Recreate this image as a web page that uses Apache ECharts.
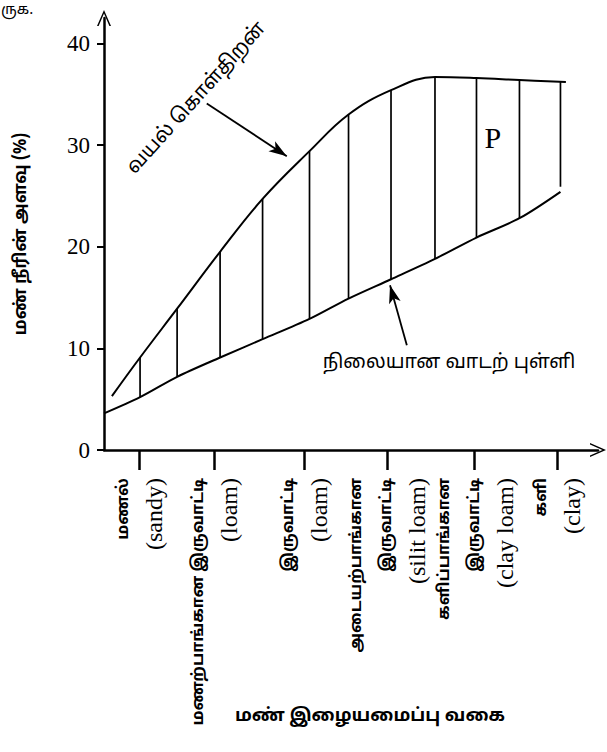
<!DOCTYPE html>
<html><head><meta charset="utf-8">
<script src="https://cdn.jsdelivr.net/npm/echarts@6/dist/echarts.min.js"></script>
<style>html,body{margin:0;padding:0;background:#fff}#c{width:607px;height:752px}</style>
</head><body><div id="c"></div>
<script>
// ---- data ----
const yTicks = [0, 10, 20, 30, 40];
const xTickPos = [7.1, 22.3, 40.5, 57.3, 75.0, 91.8];
const xTickLabels = [
  ['மணல்', '(sandy)'],
  ['மணற்பாங்கான இருவாட்டி', '(loam)'],
  ['இருவாட்டி', '(loam)'],
  ['அடையற்பாங்கான', 'இருவாட்டி', '(silit loam)'],
  ['களிப்பாங்கான', 'இருவாட்டி', '(clay loam)'],
  ['களி', '(clay)']
];
const fieldCapacity = [[1.6,5.3],[7.3,9.1],[14.8,13.9],[23.5,19.5],[32.1,24.7],[41.6,29.4],[49.5,33.0],[58.1,35.4],[67.0,36.7],[75.4,36.6],[84.1,36.4],[93.5,36.2]];
const wiltingPoint = [[0,3.6],[7.3,5.2],[14.8,7.2],[23.5,9.1],[32.1,10.9],[41.6,12.9],[49.5,14.9],[58.1,16.8],[67.0,18.8],[75.4,20.9],[84.1,22.8],[92.4,25.4]];
const hatchX = [7.3, 14.8, 23.5, 32.1, 41.6, 49.5, 58.1, 67.0, 75.4, 84.1, 92.4];
const hatchLow = [5.2, 7.2, 9.1, 10.9, 12.9, 14.9, 16.8, 18.8, 20.9, 22.8, 25.9];
const hatchHigh = [9.1, 13.9, 19.5, 24.7, 29.4, 33.0, 35.4, 36.7, 36.6, 36.4, 36.2];
const arrowFC = [[20.8, 34.1], [37.0, 28.9]];
const arrowWP = [[61.3, 10.3], [57.9, 16.2]];
const labelFC = {text: 'வயல் கொள்திறன்', at: [18.8, 34.6]};
const labelP = {text: 'P', at: [78.7, 30.7]};
const labelWP = {text: 'நிலையான வாடற் புள்ளி', at: [44.3, 8.6]};
const yName = 'மண் நீரின் அளவு (%)';
const xName = 'மண் இழையமைப்பு வகை';

// ---- chart ----
const TAMIL = "'Noto Sans Tamil','Noto Sans','DejaVu Sans',sans-serif";
const SERIF = "'Liberation Serif','DejaVu Serif',serif";
const chevron = 'path://M0,16 L7,0 L14,16 L12.4,16 L7,3.6 L1.6,16 Z';
const chart = echarts.init(document.getElementById('c'), null, {renderer: 'svg'});

const option = {
  backgroundColor: '#fff',
  animation: false,
  grid: {left: 104, right: 9, top: 18, bottom: 302},
  xAxis: {
    type: 'value', min: 0, max: 100,
    splitLine: {show: false},
    axisLine: {onZero: false, lineStyle: {color: '#000', width: 2.5}, symbol: ['none', chevron], symbolSize: [14, 16]},
    axisTick: {show: true, customValues: xTickPos, length: 20, lineStyle: {color: '#000', width: 2.5}},
    axisLabel: {
      customValues: xTickPos, rotate: 90, margin: 28, color: '#000',
      formatter: function (v, i) {
        const k = xTickPos.indexOf(v);
        const lines = xTickLabels[k >= 0 ? k : i] || [];
        return lines.map(s => (s.charAt(0) === '(' ? '{e|' : '{t|') + s + '}').join('\n');
      },
      rich: {
        t: {fontFamily: TAMIL, fontSize: 16, fontWeight: 'bold', lineHeight: 30, color: '#000'},
        e: {fontFamily: SERIF, fontSize: 24, lineHeight: 30, color: '#000'}
      }
    }
  },
  yAxis: {
    type: 'value', min: 0, max: 42.5,
    splitLine: {show: false},
    axisLine: {show: true, onZero: false, lineStyle: {color: '#000', width: 2.5}, symbol: ['none', chevron], symbolSize: [14, 16]},
    axisTick: {show: true, customValues: yTicks, length: 7, lineStyle: {color: '#000', width: 2}},
    axisLabel: {customValues: yTicks, margin: 14, color: '#000', fontFamily: SERIF, fontSize: 23},
    name: yName, nameLocation: 'middle', nameGap: 74, nameRotate: 90,
    nameTextStyle: {fontFamily: TAMIL, fontSize: 17, fontWeight: 'bold', color: '#000'}
  },
  series: [
    {
      type: 'line', data: fieldCapacity, smooth: 0.4, showSymbol: false, silent: true,
      lineStyle: {color: '#000', width: 2},
      markLine: {
        silent: true, symbol: ['none', 'arrow'], symbolSize: [9, 18],
        label: {show: false}, lineStyle: {color: '#000', width: 1.8, type: 'solid'},
        data: [
          [{coord: arrowFC[0]}, {coord: arrowFC[1]}],
          [{coord: arrowWP[0]}, {coord: arrowWP[1]}]
        ]
      }
    },
    {
      type: 'line', data: wiltingPoint, smooth: 0.3, showSymbol: false, silent: true,
      lineStyle: {color: '#000', width: 2}
    },
    {
      type: 'custom', silent: true,
      data: hatchX.map((x, i) => [x, hatchLow[i], hatchHigh[i]]),
      renderItem: function (params, api) {
        const a = api.coord([api.value(0), api.value(1)]);
        const b = api.coord([api.value(0), api.value(2)]);
        return {type: 'line', shape: {x1: a[0], y1: a[1], x2: b[0], y2: b[1]}, style: {stroke: '#000', lineWidth: 1.7}};
      }
    }
  ]
};
chart.setOption(option);

const px = p => chart.convertToPixel({gridIndex: 0}, p);
const pFC = px(labelFC.at), pP = px(labelP.at), pWP = px(labelWP.at);
chart.setOption({
  graphic: [
    {type: 'text', x: pFC[0], y: pFC[1], rotation: Math.PI * 48 / 180,
     style: {text: labelFC.text, font: "20px " + TAMIL, fill: '#000', align: 'center', verticalAlign: 'middle'}},
    {type: 'text', x: pP[0], y: pP[1],
     style: {text: labelP.text, font: "30px " + SERIF, fill: '#000', align: 'center', verticalAlign: 'middle'}},
    {type: 'text', x: pWP[0], y: pWP[1],
     style: {text: labelWP.text, font: "19.5px " + TAMIL, fill: '#000', align: 'left', verticalAlign: 'middle'}},
    {type: 'text', x: 370, y: 716,
     style: {text: xName, font: "bold 18px " + TAMIL, fill: '#000', align: 'center', verticalAlign: 'middle'}},
    {type: 'text', x: 1, y: 10,
     style: {text: 'ருக.', font: "15px " + TAMIL, fill: '#000', align: 'left', verticalAlign: 'middle'}}
  ]
});
</script></body></html>
